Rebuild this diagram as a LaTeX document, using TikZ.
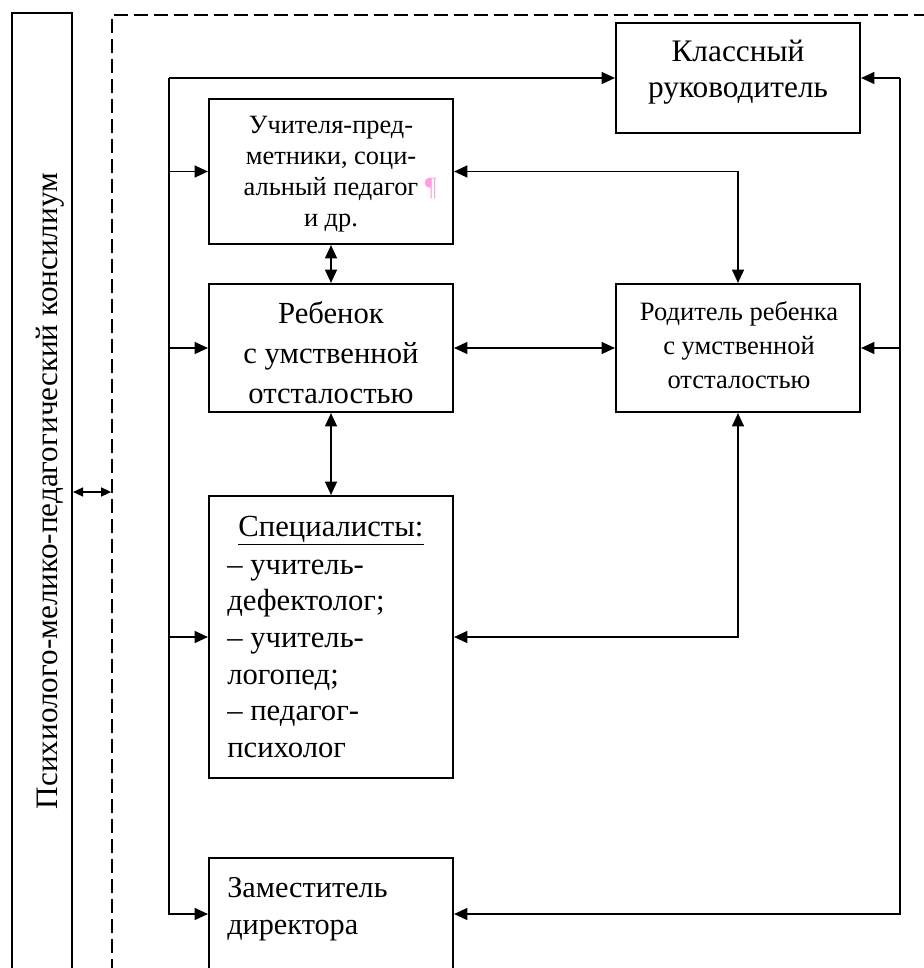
\documentclass[tikz,border=0pt]{standalone}
\usepackage{fontspec}
\setmainfont{Liberation Serif}
\usetikzlibrary{arrows.meta}
\definecolor{pilcrow}{RGB}{255,160,225}
\begin{document}
\begin{tikzpicture}[x=0.75pt,y=-0.75pt,
  box/.style={draw, line width=1.6pt, inner sep=0pt, rectangle},
  txt/.style={inner sep=0pt, align=center},
  conn/.style={line width=1.1pt, arrows={-Triangle[length=10pt,width=9pt]}},
  bconn/.style={line width=1.1pt, arrows={Triangle[length=10pt,width=9pt]-Triangle[length=10pt,width=9pt]}},
  plain/.style={line width=1.1pt}]
\useasboundingbox (0,0) rectangle (924,968);
\clip (0,0) rectangle (924,968);
% frames
\node[box, minimum width=45pt, minimum height=718.5pt] (ppk) at (42,492) {};
\node[draw, line width=1.3pt, dash pattern=on 10.5pt off 4.5pt, inner sep=0pt,
      minimum width=621pt, minimum height=720pt] (team) at (526,495) {};
% boxes
\node[box, minimum width=183pt, minimum height=82.5pt] (klass) at (738,78) {};
\node[box, minimum width=183pt, minimum height=108.75pt] (uch) at (331,171.5) {};
\node[box, minimum width=183pt, minimum height=96pt] (reb) at (331,348) {};
\node[box, minimum width=183pt, minimum height=96pt] (rod) at (738,348) {};
\node[box, minimum width=183pt, minimum height=211.5pt] (spec) at (331,637) {};
\node[box, minimum width=183pt, minimum height=84pt] (zam) at (331,914) {};
% texts
\node[txt, rotate=90, font=\fontsize{23.4}{27}\selectfont] (tppk) at (49.7,491) {Психиолого-мелико-педагогический консилиум};
\node[txt, font=\fontsize{23.5}{27}\selectfont] (tklass) at (738,72.6) {Классный\\руководитель};
\node[txt, font=\fontsize{19.8}{23.25}\selectfont] (tuch) at (331,174.2) {Учителя-пред-\\метники, соци-\\альный педагог\rlap{ \textcolor{pilcrow}{¶}}\\и др.};
\begin{scope}
\clip (reb.north west) rectangle ([yshift=6.75pt]reb.south east);
\node[txt, font=\fontsize{23}{30}\selectfont] (treb) at (331,352.5) {Ребенок\\с умственной\\отсталостью};
\end{scope}
\node[txt, font=\fontsize{19.9}{25.5}\selectfont] (trod) at (739,344.9) {Родитель ребенка\\с умственной\\отсталостью};
\node[txt, font=\fontsize{23}{27.5}\selectfont, anchor=base] (tspech) at (331,536) {\underline{Специалисты:}};
\node[txt, align=left, anchor=west, font=\fontsize{23}{27.5}\selectfont] (tspec) at (227,658.6) {– учитель-\\дефектолог;\\– учитель-\\логопед;\\– педагог-\\психолог};
\node[txt, align=left, anchor=west, font=\fontsize{22.7}{27.75}\selectfont] (tzam) at (227,908.9) {Заместитель\\директора};
% buses
\coordinate (lb) at (169,0);
\coordinate (rb) at (900,0);
\draw[conn] (lb |- klass.west) -- (klass.west);
\draw[conn] (lb |- klass.west) -- (lb |- zam.west) -- (zam.west);
\draw[conn] (lb |- uch.west) -- (uch.west);
\draw[conn] (lb |- reb.west) -- (reb.west);
\draw[conn] (lb |- spec.west) -- (spec.west);
\draw[conn] (rb |- klass.east) -- (klass.east);
\draw[conn] (rb |- klass.east) -- (rb |- zam.east) -- (zam.east);
\draw[conn] (rb |- rod.east) -- (rod.east);
% links
\draw[bconn] (uch.south) -- (reb.north);
\draw[bconn] (reb.south) -- (spec.north);
\draw[bconn] (reb.east) -- (rod.west);
\draw[bconn] (uch.east) -| (rod.north);
\draw[bconn] (spec.east) -| (rod.south);
\draw[line width=1.1pt, arrows={Triangle[length=7.5pt,width=6.75pt]-Triangle[length=7.5pt,width=6.75pt]}] (ppk.east) -- (team.west |- ppk.east);
\end{tikzpicture}
\end{document}
